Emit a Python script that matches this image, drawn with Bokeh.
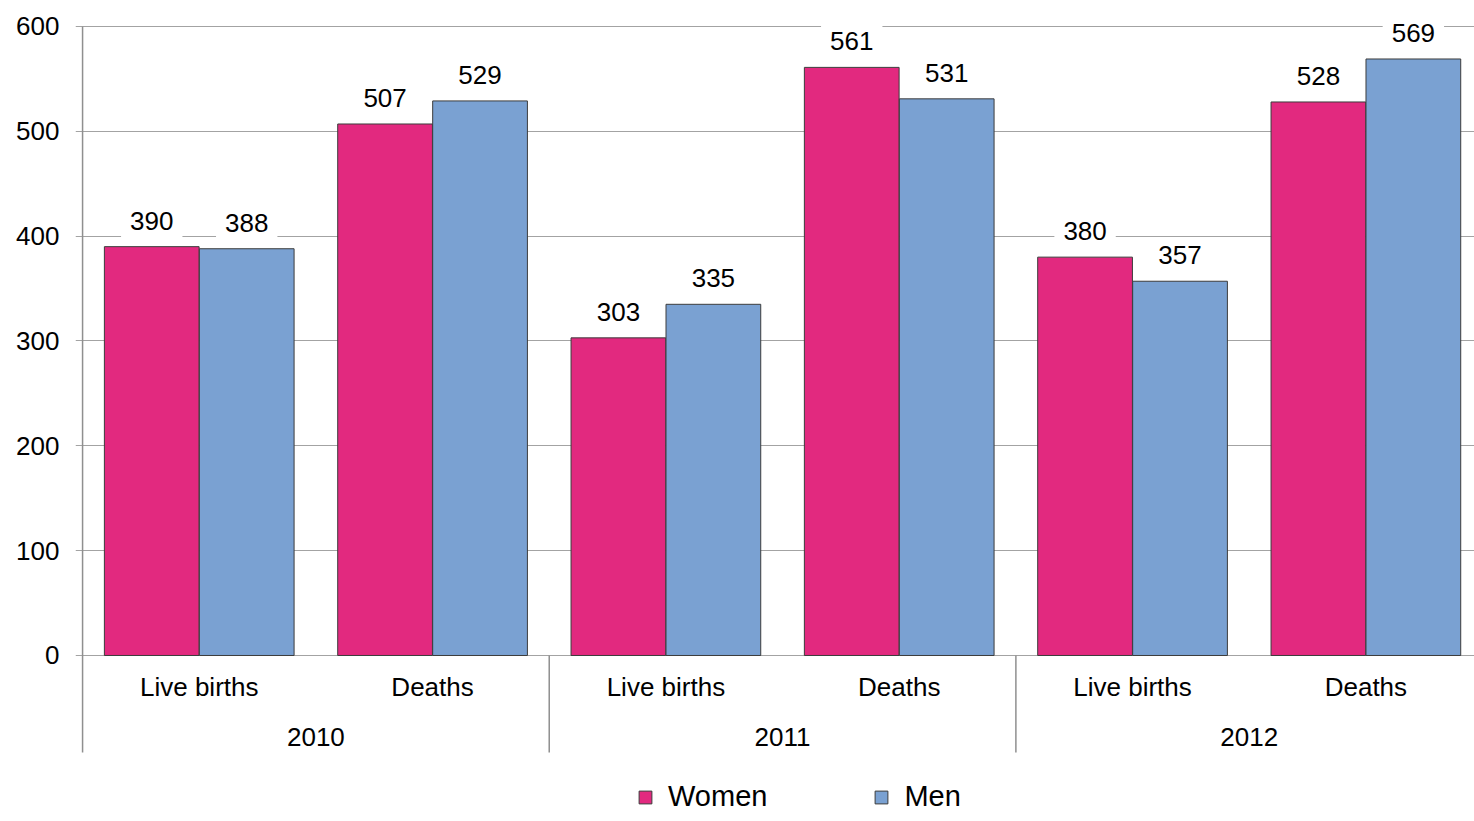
from bokeh.plotting import figure
from bokeh.models import ColumnDataSource, Legend, LegendItem, Range1d, FixedTicker
from bokeh.core.properties import value
from bokeh.embed import file_html
from bokeh.resources import INLINE

# ---- data ----
years = ["2010", "2011", "2012"]
measures = ["Live births", "Deaths"]
women = [390, 507, 303, 561, 380, 528]
men = [388, 529, 335, 531, 357, 569]
y_ticks = [0, 100, 200, 300, 400, 500, 600]

# ---- style ----
FONT = "Liberation Sans"
PINK = "#E2297F"
BLUE = "#7AA1D2"
EDGE = "#3C3C3C"
GRID = "#A3A3A3"
AXIS = "#8F8F8F"

n_cat = len(years) * len(measures)
centers = [i + 0.5 for i in range(n_cat)]
BW = 0.406
OFF = 0.2035
CAT_PX = 233.33
TICK_OUT = 8
FRAME_W = 1399
FRAME_H = 821
Y_BOTTOM = -158.35
Y_TOP = 624.8
AXIS_BOTTOM = -92.5

x0 = -TICK_OUT / CAT_PX + 0.004
p = figure(width=1474, height=821, frame_width=FRAME_W, frame_height=FRAME_H,
           x_range=Range1d(x0, x0 + FRAME_W / CAT_PX), y_range=Range1d(Y_BOTTOM, Y_TOP),
           output_backend="svg", toolbar_location=None, x_axis_type=None,
           min_border_left=75, min_border_right=0, min_border_top=0, min_border_bottom=0,
           title=None)
p.outline_line_color = None
p.background_fill_color = "white"
p.border_fill_color = "white"

ax = p.yaxis[0]
ax.ticker = FixedTicker(ticks=y_ticks)
ax.axis_line_color = None
ax.major_tick_line_color = None
ax.major_tick_out = 0
ax.major_tick_in = 0
ax.minor_tick_line_color = None
ax.major_label_text_font = FONT
ax.major_label_text_font_size = "26px"
ax.major_label_text_color = "black"
ax.major_label_standoff = 16

p.ygrid.grid_line_color = GRID
p.ygrid.grid_line_width = 1.2
p.ygrid.ticker = FixedTicker(ticks=y_ticks)

src = ColumnDataSource(dict(
    xw=[c - OFF for c in centers], xm=[c + OFF for c in centers],
    women=women, men=men,
    tw=[str(v) for v in women], tm=[str(v) for v in men],
))

rw = p.vbar(x="xw", top="women", bottom=0, width=BW, fill_color=PINK,
            line_color=EDGE, line_width=1, source=src)
rm = p.vbar(x="xm", top="men", bottom=0, width=BW, fill_color=BLUE,
            line_color=EDGE, line_width=1, source=src)

# value axis line and group separators
p.segment(x0=[0, 2, 4], y0=[AXIS_BOTTOM] * 3, x1=[0, 2, 4], y1=[y_ticks[-1], 0, 0],
          line_color=AXIS, line_width=1.5)

for xcol, tcol, ycol in (("xw", "tw", "women"), ("xm", "tm", "men")):
    p.text(x=xcol, y=ycol, text=tcol, source=src, y_offset=-26,
           text_align="center", text_baseline="middle",
           text_font=value(FONT), text_font_size="26px", text_color="black",
           background_fill_color="white", padding=9)

# category labels
p.text(x=centers, y=[-30.5] * n_cat, text=measures * len(years),
       text_align="center", text_baseline="middle",
       text_font=value(FONT), text_font_size="26px", text_color="black")
p.text(x=[1, 3, 5], y=[-77.3] * 3, text=years,
       text_align="center", text_baseline="middle",
       text_font=value(FONT), text_font_size="26px", text_color="black")

legend = Legend(items=[LegendItem(label="Women", renderers=[rw]),
                       LegendItem(label="Men", renderers=[rm])],
                location=(562, 8), orientation="horizontal",
                glyph_width=16, glyph_height=16, label_standoff=15, spacing=106,
                padding=0, margin=0, border_line_color=None,
                background_fill_alpha=0,
                label_text_font=FONT, label_text_font_size="29px",
                label_text_color="black")
p.add_layout(legend)

open("out.html", "w").write(file_html(p, INLINE))
